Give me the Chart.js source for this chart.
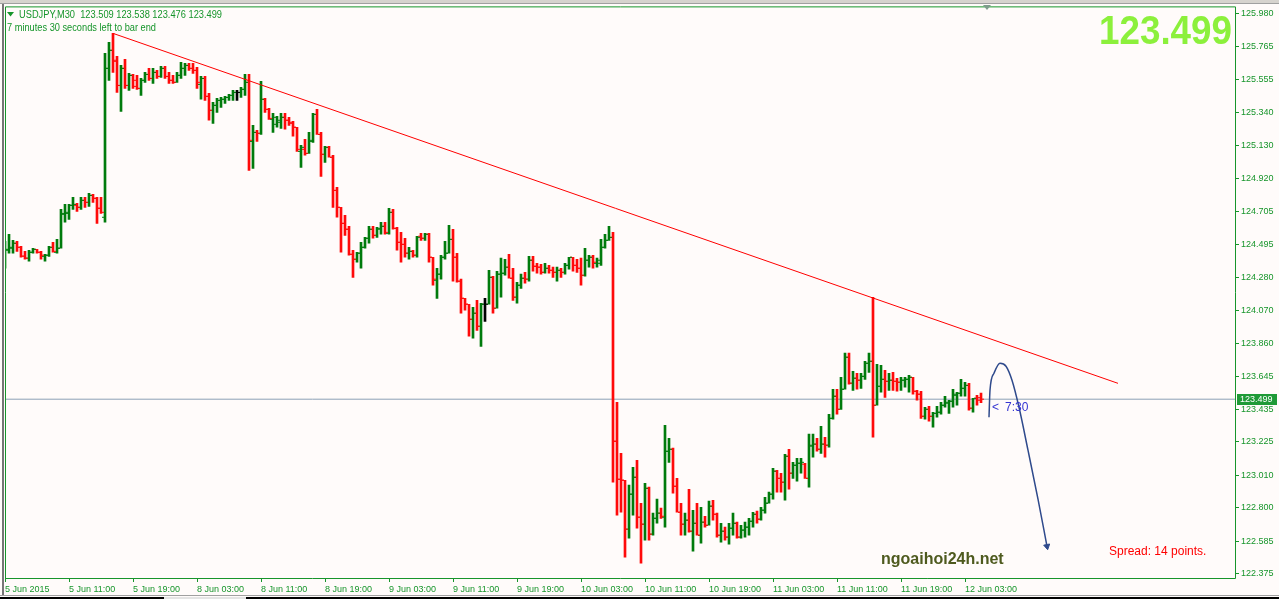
<!DOCTYPE html>
<html>
<head>
<meta charset="utf-8">
<title>USDJPY,M30</title>
<script src="https://cdn.jsdelivr.net/npm/chart.js@4.4.1/dist/chart.umd.min.js"></script>
<style>
  html, body { margin: 0; padding: 0; overflow: hidden; background: #fffbfa; }
  canvas { display: block; }
</style>
</head>
<body>
<canvas id="chart" width="1279" height="599"></canvas>
<script>
// USDJPY M30 bars, 5 Jun 2015 03:00 .. 12 Jun 2015
const opens = [
  124.425, 124.457, 124.476, 124.502, 124.476, 124.419, 124.406, 124.444, 124.463, 124.444,
  124.418, 124.425, 124.476, 124.444, 124.470, 124.688, 124.694, 124.746, 124.746, 124.733,
  124.778, 124.765, 124.810, 124.791, 124.727, 124.669, 125.627, 125.743, 125.672, 125.517,
  125.627, 125.517, 125.582, 125.550, 125.498, 125.550, 125.588, 125.562, 125.601, 125.575,
  125.627, 125.575, 125.550, 125.537, 125.582, 125.627, 125.646, 125.627, 125.614, 125.524,
  125.562, 125.447, 125.357, 125.389, 125.421, 125.428, 125.440, 125.453, 125.472, 125.472,
  125.492, 125.537, 125.157, 125.215, 125.209, 125.428, 125.363, 125.299, 125.267, 125.280,
  125.312, 125.293, 125.280, 125.248, 125.093, 125.106, 125.080, 125.157, 125.331, 125.202,
  125.074, 125.119, 125.055, 124.842, 124.733, 124.630, 124.592, 124.431, 124.399, 124.438,
  124.476, 124.534, 124.592, 124.553, 124.592, 124.611, 124.566, 124.701, 124.598, 124.508,
  124.495, 124.438, 124.450, 124.425, 124.547, 124.534, 124.560, 124.412, 124.264, 124.303,
  124.412, 124.438, 124.527, 124.412, 124.258, 124.148, 124.110, 124.013, 124.052, 123.968,
  124.110, 124.110, 124.283, 124.084, 124.303, 124.309, 124.348, 124.277, 124.155, 124.232,
  124.277, 124.271, 124.393, 124.354, 124.348, 124.315, 124.341, 124.328, 124.315, 124.328,
  124.315, 124.360, 124.412, 124.360, 124.341, 124.296, 124.393, 124.412, 124.373, 124.373,
  124.476, 124.521, 124.540, 123.229, 122.984, 122.978, 122.663, 122.888, 122.997, 122.740,
  122.695, 122.926, 122.631, 122.733, 122.766, 122.740, 123.164, 123.177, 122.939, 122.772,
  122.695, 122.721, 122.650, 122.701, 122.624, 122.708, 122.688, 122.811, 122.759, 122.624,
  122.650, 122.612, 122.669, 122.701, 122.612, 122.657, 122.676, 122.714, 122.759, 122.727,
  122.785, 122.830, 122.888, 123.036, 122.990, 122.965, 123.132, 123.023, 123.074, 123.087,
  123.081, 122.990, 123.197, 123.210, 123.177, 123.210, 123.203, 123.376, 123.518, 123.434,
  123.563, 123.769, 123.602, 123.634, 123.621, 123.646, 123.730, 123.743, 123.460, 123.582,
  123.627, 123.614, 123.621, 123.614, 123.608, 123.621, 123.627, 123.640, 123.550, 123.531,
  123.389, 123.434, 123.389, 123.408, 123.415, 123.460, 123.473, 123.486, 123.524, 123.537,
  123.569, 123.588, 123.441, 123.505, 123.509
];
const highs = [
  124.515, 124.560, 124.521, 124.515, 124.483, 124.450, 124.457, 124.470, 124.463, 124.450,
  124.431, 124.483, 124.508, 124.527, 124.720, 124.752, 124.752, 124.797, 124.759, 124.797,
  124.797, 124.823, 124.816, 124.797, 124.797, 125.724, 125.794, 125.852, 125.704, 125.646,
  125.685, 125.595, 125.588, 125.582, 125.562, 125.601, 125.627, 125.627, 125.614, 125.640,
  125.640, 125.601, 125.582, 125.601, 125.665, 125.659, 125.659, 125.659, 125.633, 125.575,
  125.575, 125.466, 125.408, 125.434, 125.440, 125.447, 125.460, 125.485, 125.485, 125.505,
  125.588, 125.588, 125.260, 125.228, 125.543, 125.434, 125.370, 125.338, 125.318, 125.338,
  125.338, 125.312, 125.286, 125.248, 125.132, 125.170, 125.215, 125.338, 125.363, 125.215,
  125.125, 125.125, 125.068, 124.862, 124.733, 124.682, 124.611, 124.457, 124.444, 124.508,
  124.540, 124.611, 124.611, 124.605, 124.637, 124.637, 124.727, 124.720, 124.605, 124.572,
  124.534, 124.476, 124.457, 124.547, 124.566, 124.566, 124.566, 124.412, 124.341, 124.425,
  124.515, 124.617, 124.592, 124.438, 124.271, 124.148, 124.110, 124.090, 124.135, 124.116,
  124.148, 124.328, 124.290, 124.322, 124.406, 124.399, 124.431, 124.341, 124.251, 124.303,
  124.315, 124.418, 124.418, 124.373, 124.367, 124.373, 124.360, 124.348, 124.348, 124.341,
  124.373, 124.412, 124.412, 124.399, 124.406, 124.470, 124.425, 124.425, 124.406, 124.527,
  124.560, 124.611, 124.572, 123.479, 123.151, 122.978, 122.946, 123.061, 123.106, 122.830,
  122.958, 122.933, 122.766, 122.856, 122.798, 123.331, 123.248, 123.184, 122.990, 122.830,
  122.766, 122.920, 122.785, 122.830, 122.804, 122.746, 122.843, 122.849, 122.766, 122.701,
  122.676, 122.701, 122.766, 122.708, 122.688, 122.708, 122.733, 122.772, 122.779, 122.804,
  122.868, 122.901, 123.055, 123.042, 123.023, 123.145, 123.177, 123.093, 123.119, 123.119,
  123.087, 123.274, 123.274, 123.248, 123.325, 123.254, 123.402, 123.563, 123.563, 123.640,
  123.795, 123.795, 123.679, 123.666, 123.666, 123.743, 123.795, 124.154, 123.724, 123.717,
  123.685, 123.666, 123.672, 123.634, 123.640, 123.640, 123.653, 123.640, 123.556, 123.550,
  123.447, 123.453, 123.415, 123.453, 123.479, 123.518, 123.492, 123.563, 123.544, 123.627,
  123.608, 123.601, 123.505, 123.524, 123.538
];
const lows = [
  124.341, 124.438, 124.438, 124.450, 124.412, 124.399, 124.386, 124.438, 124.438, 124.399,
  124.386, 124.418, 124.444, 124.438, 124.470, 124.637, 124.656, 124.720, 124.707, 124.720,
  124.733, 124.739, 124.765, 124.630, 124.694, 124.637, 125.550, 125.601, 125.472, 125.350,
  125.498, 125.485, 125.498, 125.492, 125.453, 125.537, 125.550, 125.530, 125.562, 125.569,
  125.562, 125.530, 125.530, 125.537, 125.562, 125.582, 125.614, 125.595, 125.498, 125.428,
  125.421, 125.293, 125.273, 125.344, 125.376, 125.402, 125.421, 125.421, 125.421, 125.440,
  125.453, 124.971, 124.984, 125.157, 125.202, 125.344, 125.299, 125.215, 125.248, 125.241,
  125.235, 125.260, 125.190, 125.093, 124.990, 125.068, 125.080, 125.151, 125.202, 124.932,
  125.022, 125.055, 124.733, 124.669, 124.444, 124.553, 124.425, 124.283, 124.380, 124.341,
  124.470, 124.502, 124.534, 124.540, 124.560, 124.560, 124.560, 124.592, 124.457, 124.380,
  124.412, 124.399, 124.412, 124.412, 124.521, 124.521, 124.380, 124.232, 124.148, 124.271,
  124.399, 124.438, 124.258, 124.251, 124.052, 124.071, 123.904, 123.891, 123.942, 123.839,
  124.000, 124.110, 124.052, 124.084, 124.155, 124.296, 124.277, 124.135, 124.116, 124.212,
  124.245, 124.258, 124.322, 124.309, 124.303, 124.309, 124.309, 124.283, 124.258, 124.283,
  124.303, 124.335, 124.322, 124.315, 124.232, 124.290, 124.348, 124.341, 124.348, 124.360,
  124.470, 124.521, 122.965, 122.753, 122.772, 122.483, 122.605, 122.753, 122.669, 122.444,
  122.592, 122.592, 122.624, 122.701, 122.733, 122.676, 123.093, 122.894, 122.772, 122.624,
  122.624, 122.644, 122.522, 122.624, 122.573, 122.676, 122.688, 122.721, 122.612, 122.580,
  122.592, 122.567, 122.624, 122.605, 122.605, 122.612, 122.624, 122.676, 122.701, 122.721,
  122.766, 122.830, 122.856, 122.901, 122.901, 122.849, 122.920, 122.990, 122.971, 123.023,
  122.990, 122.933, 123.126, 123.164, 123.151, 123.126, 123.190, 123.370, 123.402, 123.434,
  123.563, 123.595, 123.556, 123.563, 123.569, 123.627, 123.672, 123.254, 123.460, 123.544,
  123.511, 123.556, 123.556, 123.550, 123.556, 123.576, 123.544, 123.531, 123.492, 123.376,
  123.370, 123.357, 123.319, 123.383, 123.402, 123.447, 123.408, 123.447, 123.460, 123.518,
  123.518, 123.428, 123.415, 123.460, 123.476
];
const closes = [
  124.463, 124.470, 124.502, 124.476, 124.419, 124.406, 124.444, 124.463, 124.444, 124.425,
  124.425, 124.476, 124.450, 124.470, 124.694, 124.701, 124.746, 124.752, 124.733, 124.778,
  124.765, 124.810, 124.791, 124.727, 124.701, 125.627, 125.743, 125.679, 125.517, 125.627,
  125.517, 125.582, 125.511, 125.498, 125.550, 125.588, 125.562, 125.601, 125.575, 125.627,
  125.575, 125.550, 125.537, 125.582, 125.627, 125.646, 125.627, 125.614, 125.537, 125.562,
  125.447, 125.357, 125.389, 125.421, 125.428, 125.440, 125.453, 125.472, 125.472, 125.492,
  125.537, 125.164, 125.215, 125.209, 125.428, 125.363, 125.305, 125.312, 125.293, 125.312,
  125.293, 125.273, 125.248, 125.106, 125.119, 125.080, 125.164, 125.331, 125.202, 125.074,
  125.119, 125.055, 124.842, 124.733, 124.630, 124.592, 124.431, 124.399, 124.438, 124.476,
  124.534, 124.592, 124.553, 124.598, 124.611, 124.572, 124.701, 124.598, 124.508, 124.495,
  124.438, 124.450, 124.425, 124.540, 124.534, 124.560, 124.412, 124.271, 124.303, 124.412,
  124.438, 124.527, 124.412, 124.258, 124.148, 124.110, 124.013, 124.052, 123.968, 124.110,
  124.110, 124.283, 124.084, 124.303, 124.309, 124.348, 124.277, 124.155, 124.232, 124.277,
  124.271, 124.393, 124.354, 124.348, 124.315, 124.341, 124.328, 124.315, 124.328, 124.315,
  124.360, 124.412, 124.360, 124.341, 124.296, 124.393, 124.412, 124.380, 124.393, 124.476,
  124.521, 124.540, 123.228, 122.984, 122.978, 122.663, 122.888, 122.997, 122.740, 122.695,
  122.926, 122.631, 122.733, 122.766, 122.746, 123.164, 123.177, 122.939, 122.772, 122.695,
  122.721, 122.650, 122.701, 122.624, 122.708, 122.688, 122.811, 122.759, 122.624, 122.650,
  122.612, 122.669, 122.701, 122.612, 122.657, 122.676, 122.714, 122.759, 122.727, 122.785,
  122.830, 122.888, 123.036, 122.990, 122.965, 123.132, 123.023, 123.074, 123.087, 123.093,
  122.990, 123.203, 123.210, 123.177, 123.210, 123.203, 123.376, 123.518, 123.434, 123.563,
  123.769, 123.602, 123.634, 123.621, 123.646, 123.730, 123.743, 123.460, 123.582, 123.627,
  123.614, 123.621, 123.614, 123.608, 123.621, 123.627, 123.640, 123.550, 123.531, 123.389,
  123.434, 123.389, 123.408, 123.415, 123.460, 123.479, 123.486, 123.531, 123.537, 123.569,
  123.588, 123.441, 123.505, 123.492, 123.499
];

// time axis: one label every 16 bars
const timeTickBars = [0, 16, 32, 48, 64, 80, 96, 112, 128, 144, 160, 176, 192, 208, 224, 240];
const timeTickLabels = [
  '5 Jun 2015', '5 Jun 11:00', '5 Jun 19:00', '8 Jun 03:00', '8 Jun 11:00', '8 Jun 19:00',
  '9 Jun 03:00', '9 Jun 11:00', '9 Jun 19:00', '10 Jun 03:00', '10 Jun 11:00', '10 Jun 19:00',
  '11 Jun 03:00', '11 Jun 11:00', '11 Jun 19:00', '12 Jun 03:00'
];
const priceTicks = [
  125.980, 125.765, 125.555, 125.340, 125.130, 124.920, 124.705, 124.495, 124.280,
  124.070, 123.860, 123.645, 123.435, 123.225, 123.010, 122.800, 122.585, 122.375
];

const bidPrice = 123.499;
const headerText = 'USDJPY,M30  123.509 123.538 123.476 123.499';
const timerText = '7 minutes 30 seconds left to bar end';
const spreadText = 'Spread: 14 points.';
const siteText = 'ngoaihoi24h.net';

// red trendline (bar index, price)
const trendX = [27, 278.25];
const trendY = [125.852, 123.601];

// hand drawn blue arrow (bar index, price)
const arrowX = [246, 246.25, 247.25, 248.75, 250.25, 251.75, 253.5, 255.75, 258.25, 260.5];
const arrowY = [123.383, 123.557, 123.666, 123.730, 123.711, 123.621, 123.447, 123.171, 122.856, 122.553];

const FONT = "'Liberation Sans', Arial, sans-serif";
const GREEN = '#17952b';
const BULL = '#007b0c';
const BEAR = '#ff0a0a';
const DOJI = '#000000';

function barColor(i) {
  if (closes[i] > opens[i]) return BULL;
  if (closes[i] < opens[i]) return BEAR;
  return DOJI;
}

const ranges = opens.map((o, i) => ({ x: i, y: [lows[i], highs[i]] }));
const openTicks = opens.map((o, i) => ({ x: i - 0.5, y: o }));
const closeTicks = closes.map((c, i) => ({ x: i + 0.5, y: c }));
const trendData = trendX.map((x, i) => ({ x, y: trendY[i] }));
const arrowData = arrowX.map((x, i) => ({ x, y: arrowY[i] }));

const pagePlugin = {
  id: 'page',
  beforeDraw(chart) {
    const ctx = chart.ctx;
    ctx.save();
    ctx.fillStyle = '#fffbfa';
    ctx.fillRect(0, 0, chart.width, chart.height);
    ctx.restore();
  },
  afterDraw(chart) {
    const ctx = chart.ctx;
    const a = chart.chartArea;
    const y = chart.scales.y;
    ctx.save();

    // window frame
    ctx.fillStyle = '#d6d3ce';
    ctx.fillRect(0, 0, chart.width, 3);
    ctx.fillStyle = '#a0a0a0';
    ctx.fillRect(0, 3, chart.width, 1);
    ctx.fillStyle = '#767676';
    ctx.fillRect(2, 4, 2, 592);
    ctx.fillStyle = '#a0a0a0';
    ctx.fillRect(0, 595, chart.width, 1);
    ctx.fillStyle = '#000';
    ctx.fillRect(0, 597, chart.width, 2);
    ctx.fillStyle = '#e4e4e4';
    ctx.fillRect(164, 597, 82, 2);

    // chart border
    ctx.strokeStyle = GREEN;
    ctx.lineWidth = 1;
    ctx.beginPath();
    ctx.moveTo(a.left + 0.5, a.bottom + 0.5);
    ctx.lineTo(a.left + 0.5, a.top - 0.5);
    ctx.lineTo(a.right + 0.5, a.top - 0.5);
    ctx.lineTo(a.right + 0.5, a.bottom + 0.5);
    ctx.lineTo(a.left, a.bottom + 0.5);
    ctx.stroke();

    // chart shift marker
    ctx.fillStyle = '#7f9c8c';
    ctx.beginPath();
    ctx.moveTo(983, 5);
    ctx.lineTo(991, 5);
    ctx.lineTo(987, 10);
    ctx.closePath();
    ctx.fill();

    // header
    ctx.fillStyle = GREEN;
    ctx.beginPath();
    ctx.moveTo(7, 12);
    ctx.lineTo(14, 12);
    ctx.lineTo(10.5, 16.5);
    ctx.closePath();
    ctx.fill();
    ctx.font = '10px ' + FONT;
    ctx.textBaseline = 'alphabetic';
    ctx.textAlign = 'left';
    ctx.fillText(headerText, 19, 18, 203);
    ctx.fillText(timerText, 7, 31, 149);

    // big bid price
    ctx.fillStyle = '#8cf03c';
    ctx.font = 'bold 41px ' + FONT;
    ctx.textAlign = 'right';
    ctx.fillText(bidPrice.toFixed(3), 1232, 44, 133);

    // bid label on the price axis
    const py = Math.round(y.getPixelForValue(bidPrice));
    ctx.fillStyle = '#1f9a37';
    ctx.fillRect(a.right + 2, py - 5, 40, 11);
    ctx.fillStyle = '#ffffff';
    ctx.font = '9px ' + FONT;
    ctx.textAlign = 'left';
    ctx.textBaseline = 'middle';
    ctx.fillText(bidPrice.toFixed(3), a.right + 5, py + 0.5);

    // countdown next to last bar
    ctx.fillStyle = '#3434d2';
    ctx.font = '12px ' + FONT;
    ctx.textBaseline = 'alphabetic';
    ctx.fillText('<', 992, 411);
    ctx.fillText('7:30', 1005, 411);

    // spread and site
    ctx.fillStyle = '#ff0000';
    ctx.font = '12px ' + FONT;
    ctx.fillText(spreadText, 1109, 555, 105);
    ctx.fillStyle = '#4e5a1e';
    ctx.font = 'bold 16px ' + FONT;
    ctx.fillText(siteText, 881, 564, 127);

    ctx.restore();
  }
};

new Chart(document.getElementById('chart'), {
  type: 'bar',
  data: {
    datasets: [
      {
        type: 'line',
        data: [{ x: 0, y: bidPrice }, { x: 307.5, y: bidPrice }],
        borderColor: '#8ca0b6',
        borderWidth: 1,
        pointRadius: 0,
        order: 9
      },
      {
        type: 'bar',
        data: ranges,
        backgroundColor: ctx => barColor(ctx.dataIndex),
        borderWidth: 0,
        barThickness: 2,
        order: 5
      },
      {
        type: 'line',
        data: openTicks,
        showLine: false,
        pointStyle: 'line',
        pointRadius: 1,
        pointBorderWidth: 1,
        pointBorderColor: ctx => barColor(ctx.dataIndex),
        order: 4
      },
      {
        type: 'line',
        data: closeTicks,
        showLine: false,
        pointStyle: 'line',
        pointRadius: 1,
        pointBorderWidth: 1,
        pointBorderColor: ctx => barColor(ctx.dataIndex),
        order: 3
      },
      {
        type: 'line',
        data: trendData,
        borderColor: '#ff0000',
        borderWidth: 1,
        pointRadius: 0,
        order: 1
      },
      {
        type: 'line',
        data: arrowData,
        borderColor: '#2f4a8c',
        borderWidth: 1.5,
        cubicInterpolationMode: 'monotone',
        pointStyle: 'triangle',
        pointRotation: 169,
        pointRadius: ctx => ctx.dataIndex === arrowData.length - 1 ? 3.5 : 0,
        pointBackgroundColor: '#2f4a8c',
        pointBorderColor: '#2f4a8c',
        pointBorderWidth: 1,
        order: 0
      }
    ]
  },
  options: {
    responsive: false,
    animation: false,
    events: [],
    layout: { padding: { left: 5, top: 7, right: 0, bottom: 0 } },
    plugins: {
      legend: { display: false },
      tooltip: { enabled: false }
    },
    scales: {
      x: {
        type: 'linear',
        min: 0,
        max: 307.5,
        offset: false,
        border: { display: false },
        grid: { drawOnChartArea: false, offset: false, color: GREEN, tickLength: 4 },
        afterBuildTicks: scale => { scale.ticks = timeTickBars.map(v => ({ value: v })); },
        afterFit: scale => { scale.height = 21; },
        ticks: {
          autoSkip: false,
          maxRotation: 0,
          minRotation: 0,
          align: 'start',
          padding: 2,
          color: GREEN,
          font: { family: FONT, size: 9 },
          callback: value => {
            const k = timeTickBars.indexOf(value);
            return k >= 0 ? timeTickLabels[k] : '';
          }
        }
      },
      y: {
        type: 'linear',
        position: 'right',
        min: 122.349,
        max: 126.019,
        beginAtZero: false,
        border: { display: false },
        grid: { drawOnChartArea: false, color: GREEN, tickLength: 4 },
        afterBuildTicks: scale => { scale.ticks = priceTicks.map(v => ({ value: v })); },
        afterFit: scale => { scale.width = 44; },
        ticks: {
          padding: 2,
          color: GREEN,
          font: { family: FONT, size: 9 },
          callback: value => Number(value).toFixed(3)
        }
      }
    }
  },
  plugins: [pagePlugin]
});
</script>
</body>
</html>
